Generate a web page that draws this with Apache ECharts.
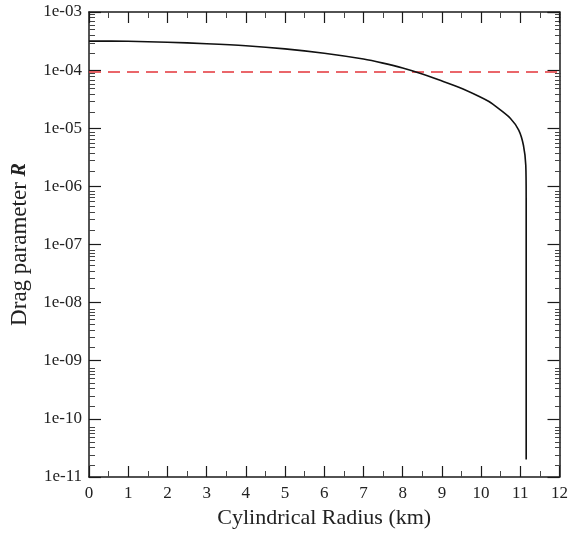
<!DOCTYPE html>
<html>
<head>
<meta charset="utf-8">
<script src="https://cdn.jsdelivr.net/npm/echarts@6/dist/echarts.min.js"></script>
<style>
  html, body { margin: 0; padding: 0; background: #fff; }
  #chart { width: 571px; height: 534px; }
</style>
</head>
<body>
<div id="chart"></div>
<script>
// curve
var radius = [0, 1, 2, 3, 4, 5, 6, 7, 7.5, 8, 8.5, 8.92, 9.43, 9.94, 10.2, 10.45, 10.75, 10.96, 11.08, 11.14, 11.15, 11.15];
var drag = [3.16e-4, 3.13e-4, 3.02e-4, 2.85e-4, 2.63e-4, 2.32e-4, 1.95e-4, 1.55e-4, 1.32e-4, 1.09e-4, 8.6e-5, 6.8e-5, 5.07e-5, 3.56e-5, 2.88e-5, 2.17e-5, 1.47e-5, 9.3e-6, 5.1e-6, 2.3e-6, 6.5e-7, 2e-11];
// red dashed level
var levelX = [0, 12];
var levelY = [9.3e-5, 9.3e-5];
// tick values
var decades = [-11, -10, -9, -8, -7, -6, -5, -4];
var mults = [2, 3, 4, 5, 6, 7, 8, 9];

var minorY = [];
for (var i = 0; i < decades.length; i++) {
  for (var j = 0; j < mults.length; j++) {
    minorY.push(mults[j] * Math.pow(10, decades[i]));
  }
}

var fmtExp = function (v) {
  var e = Math.round(Math.log(v) / Math.LN10);
  var s = Math.abs(e) < 10 ? '0' + Math.abs(e) : '' + Math.abs(e);
  return '1e' + (e < 0 ? '-' : '+') + s;
};

var curve = [];
for (var k = 0; k < radius.length; k++) curve.push([radius[k], drag[k]]);
var level = [];
for (var m = 0; m < levelX.length; m++) level.push([levelX[m], levelY[m]]);

var serif = 'Liberation Serif, Times New Roman, serif';
var lineCol = '#1a1a1a';
var box = { left: 89, right: 10, top: 12, bottom: 51 };

var yBase = function (pos, labels) {
  return {
    type: 'log', logBase: 10, min: 1e-11, max: 1e-3, interval: 1,
    gridIndex: 0, position: pos, offset: 0,
    axisLine: { show: true, onZero: false, lineStyle: { color: lineCol, width: 1.5 } },
    axisTick: { show: true, inside: true, length: 12, lineStyle: { color: lineCol, width: 1.2 } },
    axisLabel: {
      show: labels, showMinLabel: true, showMaxLabel: true, margin: 7,
      fontFamily: serif, fontSize: 17, color: '#222', formatter: fmtExp
    },
    splitLine: { show: false }
  };
};
var yMinor = function (pos) {
  return {
    type: 'log', logBase: 10, min: 1e-11, max: 1e-3,
    gridIndex: 1, position: pos, offset: 0,
    axisLine: { show: false, onZero: false },
    axisTick: { show: true, inside: true, length: 6, customValues: minorY, lineStyle: { color: '#444', width: 1 } },
    axisLabel: { show: false },
    splitLine: { show: false }
  };
};
var xBase = function (pos, labels) {
  return {
    type: 'value', min: 0, max: 12, interval: 1,
    gridIndex: 0, position: pos, offset: 0,
    axisLine: { show: true, onZero: false, lineStyle: { color: lineCol, width: 1.5 } },
    axisTick: { show: true, inside: true, length: 11, lineStyle: { color: lineCol, width: 1.2 } },
    minorTick: { show: true, splitNumber: 2, length: 6, lineStyle: { color: '#444', width: 1 } },
    axisLabel: { show: labels, margin: 8, fontFamily: serif, fontSize: 17, color: '#222' },
    splitLine: { show: false },
    minorSplitLine: { show: false }
  };
};

var left = yBase('left', true);
left.name = '{a|Drag parameter }{r|R}';
left.nameLocation = 'middle';
left.nameRotate = 90;
left.nameGap = 58;
left.nameTextStyle = {
  rich: {
    a: { fontFamily: serif, fontSize: 23, color: '#222' },
    r: { fontFamily: serif, fontSize: 20, fontStyle: 'italic', fontWeight: 'bold', color: '#222' }
  }
};

var bottom = xBase('bottom', true);
bottom.name = 'Cylindrical Radius (km)';
bottom.nameLocation = 'middle';
bottom.nameGap = 30;
bottom.nameTextStyle = { fontFamily: serif, fontSize: 22, color: '#222' };

var chart = echarts.init(document.getElementById('chart'));
chart.setOption({
  animation: false,
  backgroundColor: '#fff',
  grid: [box, box],
  xAxis: [
    bottom,
    xBase('top', false),
    { type: 'value', min: 0, max: 12, gridIndex: 1, show: false }
  ],
  yAxis: [left, yBase('right', false), yMinor('left'), yMinor('right')],
  series: [
    {
      name: 'level', type: 'line', data: level, xAxisIndex: 0, yAxisIndex: 0,
      showSymbol: false, symbol: 'none',
      lineStyle: { color: '#e3343a', width: 1.6, type: [12, 7] }
    },
    {
      name: 'drag', type: 'line', data: curve, xAxisIndex: 0, yAxisIndex: 0,
      showSymbol: false, symbol: 'none', smooth: 0.3,
      lineStyle: { color: '#111', width: 1.6 }
    }
  ]
});
</script>
</body>
</html>
